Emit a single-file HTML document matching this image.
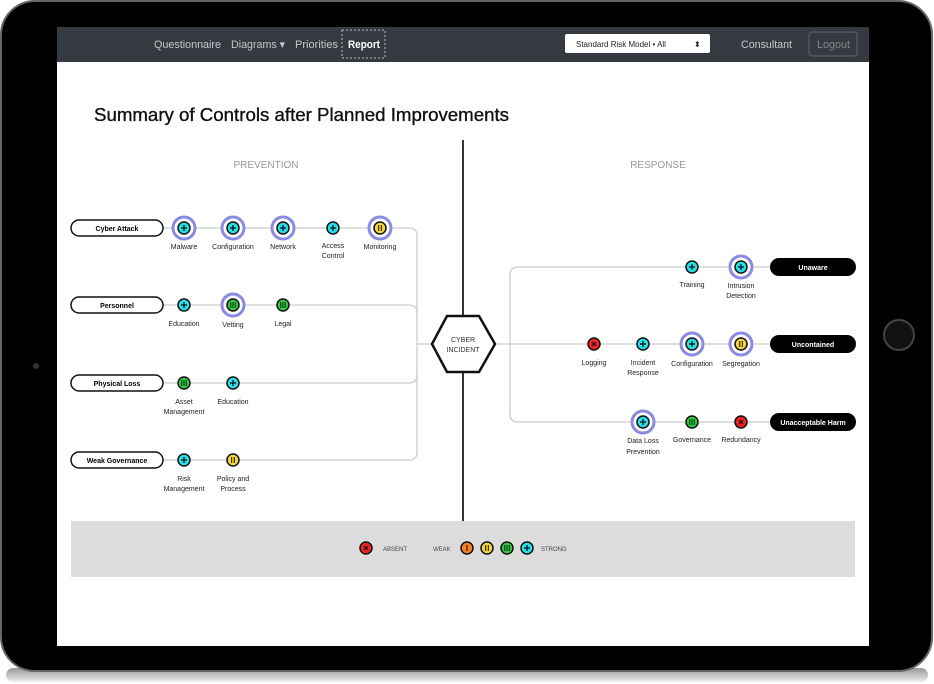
<!DOCTYPE html>
<html><head><meta charset="utf-8"><style>
html,body{margin:0;padding:0;background:#fff;width:934px;height:684px;overflow:hidden}
svg{display:block}
text{font-family:"Liberation Sans",sans-serif}
</style></head><body>
<svg width="934" height="684" viewBox="0 0 934 684" xmlns="http://www.w3.org/2000/svg">
<defs>
<linearGradient id="sh" x1="0" y1="0" x2="0" y2="1"><stop offset="0" stop-color="#999"/><stop offset="1" stop-color="#eee"/></linearGradient>
<g id="cy"><circle r="6" fill="#25e0e6" stroke="#111" stroke-width="1.5"/><path d="M-3 0H3M0 -3V3" stroke="#111" stroke-width="1.3"/></g>
<g id="ye"><circle r="6" fill="#f5d53a" stroke="#111" stroke-width="1.5"/><path d="M-1.3 -3V3M1.3 -3V3" stroke="#111" stroke-width="1"/></g>
<g id="gr"><circle r="6" fill="#2ecc40" stroke="#111" stroke-width="1.5"/><path d="M-2.2 -3V3M0 -3V3M2.2 -3V3" stroke="#111" stroke-width="0.9"/></g>
<g id="rd"><circle r="6" fill="#ee2222" stroke="#111" stroke-width="1.5"/><path d="M-2 -2L2 2M2 -2L-2 2" stroke="#111" stroke-width="1.2"/></g>
<g id="or"><circle r="6" fill="#f7821b" stroke="#111" stroke-width="1.5"/><path d="M0 -3V3" stroke="#111" stroke-width="1.1"/></g>
</defs>
<rect x="6" y="668" width="922" height="14" rx="7" fill="url(#sh)"/>
<rect x="1" y="1" width="931" height="670" rx="34" fill="#000" stroke="#666" stroke-width="2"/>
<circle cx="899" cy="335" r="15" fill="#111" stroke="#444" stroke-width="2"/>
<circle cx="36" cy="366" r="3" fill="#333"/>
<rect x="57" y="27" width="812" height="619" fill="#fff"/>
<rect x="57" y="27" width="812" height="35" fill="#343a40"/>
<g font-size="11" fill="#c8c8c8">
<text x="154" y="48" textLength="67" lengthAdjust="spacingAndGlyphs">Questionnaire</text>
<text x="231" y="48" textLength="54" lengthAdjust="spacingAndGlyphs">Diagrams ▾</text>
<text x="295" y="48" textLength="43" lengthAdjust="spacingAndGlyphs">Priorities</text>
<text x="348" y="48" fill="#fff" font-weight="bold" textLength="32" lengthAdjust="spacingAndGlyphs">Report</text>
<text x="741" y="48" textLength="51" lengthAdjust="spacingAndGlyphs">Consultant</text>
</g>
<rect x="342" y="30" width="43" height="28" fill="none" stroke="#bbb" stroke-dasharray="2,2"/>
<rect x="565" y="34" width="145" height="19" rx="2" fill="#fff"/>
<text x="576" y="47" font-size="8" fill="#222">Standard Risk Model • All</text>
<text x="694" y="47" font-size="8" fill="#222">⬍</text>
<rect x="809" y="32" width="48" height="24" rx="3" fill="none" stroke="#666"/>
<text x="817" y="48" font-size="11" fill="#888" textLength="33" lengthAdjust="spacingAndGlyphs">Logout</text>
<text x="94" y="121" font-size="18" fill="#111" stroke="#111" stroke-width="0.35" textLength="415" lengthAdjust="spacingAndGlyphs">Summary of Controls after Planned Improvements</text>
<text x="266" y="168" font-size="10" fill="#999" text-anchor="middle">PREVENTION</text>
<text x="658" y="168" font-size="10" fill="#999" text-anchor="middle">RESPONSE</text>
<line x1="463" y1="140" x2="463" y2="521" stroke="#333" stroke-width="2"/>
<g fill="none" stroke="#ccc" stroke-width="1.3">
<path d="M163 228 H409 Q417 228 417 236 V452 Q417 460 409 460 H163"/>
<path d="M163 305 H409 Q417 305 417 313"/>
<path d="M163 383 H409 Q417 383 417 375"/>
<path d="M417 344 H432"/>
<path d="M495 344 H770"/>
<path d="M770 267 H518 Q510 267 510 275 V414 Q510 422 518 422 H770"/>
</g>
<polygon points="432,344 447,316 479,316 495,344 479,372 447,372" fill="#fff" stroke="#111" stroke-width="2.5"/>
<text x="463" y="342" font-size="7" fill="#333" text-anchor="middle">CYBER</text>
<text x="463" y="352" font-size="7" fill="#333" text-anchor="middle">INCIDENT</text>
<g font-size="7" font-weight="bold" text-anchor="middle">
<rect x="71" y="220" width="92" height="16" rx="8" fill="#fff" stroke="#111" stroke-width="1.5"/><text x="117" y="231">Cyber Attack</text>
<rect x="71" y="297" width="92" height="16" rx="8" fill="#fff" stroke="#111" stroke-width="1.5"/><text x="117" y="308">Personnel</text>
<rect x="71" y="375" width="92" height="16" rx="8" fill="#fff" stroke="#111" stroke-width="1.5"/><text x="117" y="386">Physical Loss</text>
<rect x="71" y="452" width="92" height="16" rx="8" fill="#fff" stroke="#111" stroke-width="1.5"/><text x="117" y="463">Weak Governance</text>
<rect x="770" y="258" width="86" height="18" rx="9" fill="#000"/><text x="813" y="270" fill="#fff">Unaware</text>
<rect x="770" y="335" width="86" height="18" rx="9" fill="#000"/><text x="813" y="347" fill="#fff">Uncontained</text>
<rect x="770" y="413" width="86" height="18" rx="9" fill="#000"/><text x="813" y="425" fill="#fff">Unacceptable Harm</text>
</g>
<g stroke="#8a8ae0" stroke-width="3" fill="#fff">
<circle cx="184" cy="228" r="11"/><circle cx="233" cy="228" r="11"/><circle cx="283" cy="228" r="11"/><circle cx="380" cy="228" r="11"/>
<circle cx="233" cy="305" r="11"/>
<circle cx="741" cy="267" r="11"/><circle cx="692" cy="344" r="11"/><circle cx="741" cy="344" r="11"/><circle cx="643" cy="422" r="11"/>
</g>
<use href="#cy" x="184" y="228"/><use href="#cy" x="233" y="228"/><use href="#cy" x="283" y="228"/><use href="#cy" x="333" y="228"/><use href="#ye" x="380" y="228"/>
<use href="#cy" x="184" y="305"/><use href="#gr" x="233" y="305"/><use href="#gr" x="283" y="305"/>
<use href="#gr" x="184" y="383"/><use href="#cy" x="233" y="383"/>
<use href="#cy" x="184" y="460"/><use href="#ye" x="233" y="460"/>
<use href="#cy" x="692" y="267"/><use href="#cy" x="741" y="267"/>
<use href="#rd" x="594" y="344"/><use href="#cy" x="643" y="344"/><use href="#cy" x="692" y="344"/><use href="#ye" x="741" y="344"/>
<use href="#cy" x="643" y="422"/><use href="#gr" x="692" y="422"/><use href="#rd" x="741" y="422"/>
<rect x="71" y="521" width="784" height="56" fill="#dcdcdc"/>
<use href="#rd" x="366" y="548"/><use href="#or" x="467" y="548"/><use href="#ye" x="487" y="548"/><use href="#gr" x="507" y="548"/><use href="#cy" x="527" y="548"/>
<text x="383" y="551" font-size="6" fill="#444">ABSENT</text>
<text x="433" y="551" font-size="6" fill="#444">WEAK</text>
<text x="541" y="551" font-size="6" fill="#444">STRONG</text>
<g font-size="7" fill="#222" text-anchor="middle">
<text x="184" y="249">Malware</text><text x="233" y="249">Configuration</text><text x="283" y="249">Network</text>
<text x="333" y="248">Access</text><text x="333" y="258">Control</text><text x="380" y="249">Monitoring</text>
<text x="184" y="326">Education</text><text x="233" y="327">Vetting</text><text x="283" y="326">Legal</text>
<text x="184" y="404">Asset</text><text x="184" y="414">Management</text><text x="233" y="404">Education</text>
<text x="184" y="481">Risk</text><text x="184" y="491">Management</text><text x="233" y="481">Policy and</text><text x="233" y="491">Process</text>
<text x="692" y="287">Training</text><text x="741" y="288">Intrusion</text><text x="741" y="298">Detection</text>
<text x="594" y="365">Logging</text><text x="643" y="365">Incident</text><text x="643" y="375">Response</text>
<text x="692" y="366">Configuration</text><text x="741" y="366">Segregation</text>
<text x="643" y="443">Data Loss</text><text x="643" y="454">Prevention</text><text x="692" y="442">Governance</text><text x="741" y="442">Redundancy</text>
</g>
</svg>
</body></html>
